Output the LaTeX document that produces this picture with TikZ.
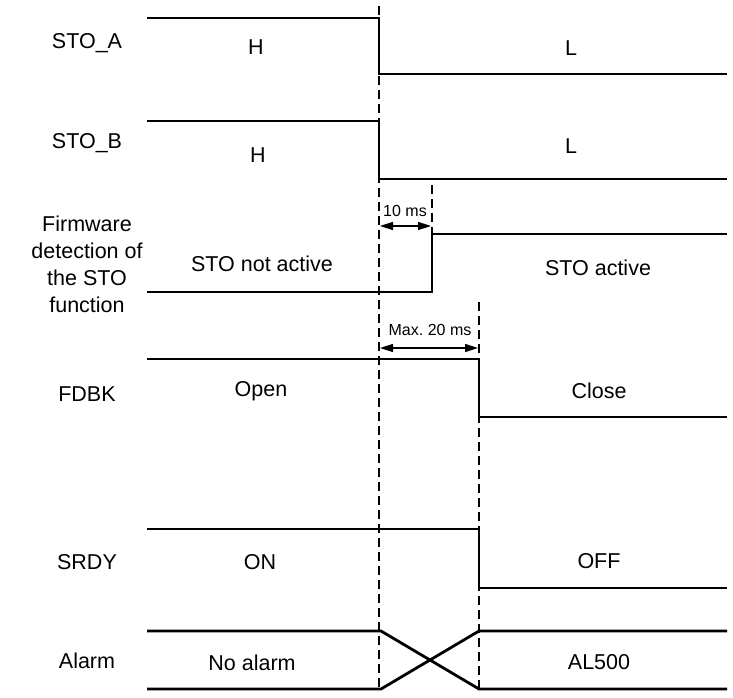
\documentclass[tikz,border=0pt]{standalone}
\usepackage{fontspec}
\setmainfont{Liberation Sans}
\usetikzlibrary{arrows.meta}
\begin{document}
\begin{tikzpicture}[x=1pt,y=-1pt,
  sig/.style={line width=2.8pt,line join=miter},
  guide/.style={line width=1.2pt,dash pattern=on 9pt off 5pt},
  dim/.style={line width=1.5pt,{Triangle[length=13pt,width=8pt]}-{Triangle[length=13pt,width=8pt]}},
  lbl/.style={font=\fontsize{21.5}{27}\selectfont,inner sep=0pt,align=center},
  small/.style={font=\fontsize{16}{18}\selectfont,inner sep=0pt}]
\useasboundingbox (0,0) rectangle (733,698);
% guide lines
\draw[guide] (379,6) -- (379,690);
\draw[guide] (432,185) -- (432,236);
\draw[guide] (479,302) -- (479,690);
% signals
\draw[sig] (147,18) -- (379,18) -- (379,74) -- (727,74);
\draw[sig] (147,121) -- (379,121) -- (379,179) -- (727,179);
\draw[sig] (147,292) -- (432,292) -- (432,234) -- (727,234);
\draw[sig] (147,359) -- (479,359) -- (479,417) -- (727,417);
\draw[sig] (147,529) -- (479,529) -- (479,588) -- (727,588);
\draw[sig] (147,631) -- (381,631) -- (479,689) -- (727,689);
\draw[sig] (147,689) -- (381,689) -- (479,631) -- (727,631);
% dimension arrows
\coordinate (a1) at (380,226);
\coordinate (a2) at (431,226);
\coordinate (b1) at (380,348);
\coordinate (b2) at (478,348);
\draw[dim] (a1) -- (a2);
\draw[dim] (b1) -- (b2);
\node[small] (t10) at (405,211) {10 ms};
\node[small] (t20) at (430,330) {Max.\ 20 ms};
% left labels
\node[lbl] (la) at (87,43) {STO\_A};
\node[lbl] (lb) at (87,143) {STO\_B};
\node[lbl] (lf) at (87,264) {Firmware\\detection of\\the STO\\function};
\node[lbl] (ld) at (87,394) {FDBK};
\node[lbl] (ls) at (87,562) {SRDY};
\node[lbl] (lal) at (87,661) {Alarm};
% state labels
\node[lbl] (h1) at (256,47) {H};
\node[lbl] (l1) at (571,48) {L};
\node[lbl] (h2) at (258,155) {H};
\node[lbl] (l2) at (571,146) {L};
\node[lbl] (f1) at (262,264) {STO not active};
\node[lbl] (f2) at (598,268) {STO active};
\node[lbl] (o1) at (261,391) {Open};
\node[lbl] (o2) at (599,391) {Close};
\node[lbl] (s1) at (260,562) {ON};
\node[lbl] (s2) at (599,561) {OFF};
\node[lbl] (n1) at (252,663) {No alarm};
\node[lbl] (n2) at (599,662) {AL500};
\end{tikzpicture}
\end{document}
